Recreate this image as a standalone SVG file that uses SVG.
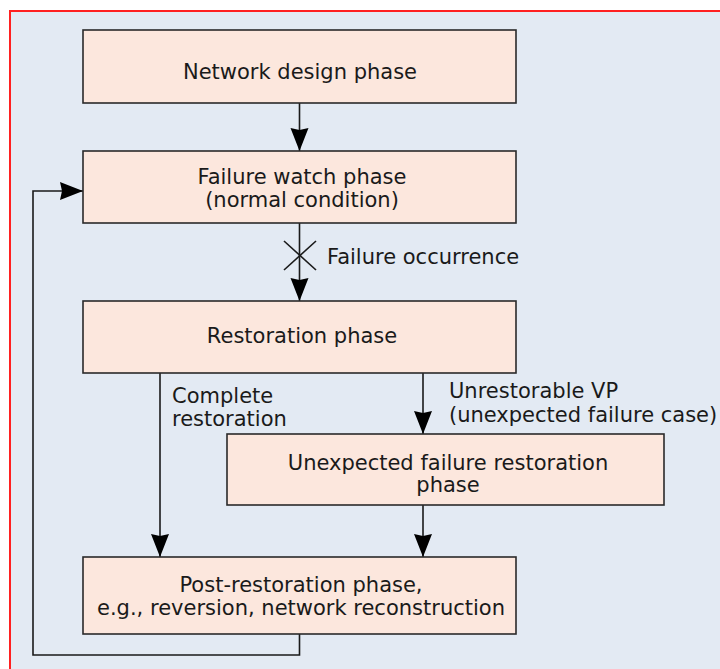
<svg xmlns="http://www.w3.org/2000/svg" width="720" height="669" viewBox="0 0 720 669">
<defs>
<style>
.box{fill:#fce7dd;stroke:#2a2a2a;stroke-width:1.6}
.t{font-family:"DejaVu Sans",sans-serif;font-size:21px;fill:#1a1a1a}
.m{text-anchor:middle}
.ln{fill:none;stroke:#1a1a1a;stroke-width:1.6}
</style>
<marker id="ah" markerWidth="24" markerHeight="20" viewBox="0 0 24 20" refX="23" refY="10" orient="auto" markerUnits="userSpaceOnUse">
<path d="M0,1 L2,10 L0,19 L23,10 Z" fill="#000"/>
</marker>
</defs>
<rect x="0" y="0" width="720" height="669" fill="#fff"/>
<rect x="10" y="11" width="720" height="670" fill="#e3eaf3" stroke="#ff2020" stroke-width="2"/>
<g id="connectors">
<line class="ln" x1="299.5" y1="103" x2="299.5" y2="151" marker-end="url(#ah)"/>
<line class="ln" x1="299.5" y1="223" x2="299.5" y2="301" marker-end="url(#ah)"/>
<g id="failure-mark">
<line class="ln" x1="284" y1="241" x2="316" y2="270" stroke-width="1.3"/>
<line class="ln" x1="316" y1="241" x2="284" y2="270" stroke-width="1.3"/>
</g>
<text class="t" x="327" y="264">Failure occurrence</text>
<line class="ln" x1="160" y1="373" x2="160" y2="557" marker-end="url(#ah)"/>
<text class="t" x="172" y="403">Complete</text>
<text class="t" x="172" y="426">restoration</text>
<line class="ln" x1="423" y1="373" x2="423" y2="434" marker-end="url(#ah)"/>
<text class="t" x="449" y="398">Unrestorable VP</text>
<text class="t" x="449" y="422">(unexpected failure case)</text>
<line class="ln" x1="423" y1="505" x2="423" y2="557" marker-end="url(#ah)"/>
<polyline class="ln" points="299.5,634 299.5,655 33,655 33,191 83,191" marker-end="url(#ah)"/>
</g>
<g id="network-design">
<rect class="box" x="83" y="30" width="433" height="73"/>
<text class="t m" x="300" y="79">Network design phase</text>
</g>
<g id="failure-watch">
<rect class="box" x="83" y="151" width="433" height="72"/>
<text class="t m" x="302" y="184">Failure watch phase</text>
<text class="t m" x="302" y="207">(normal condition)</text>
</g>
<g id="restoration">
<rect class="box" x="83" y="301" width="433" height="72"/>
<text class="t m" x="302" y="343">Restoration phase</text>
</g>
<g id="unexpected">
<rect class="box" x="227" y="434" width="437" height="71"/>
<text class="t m" x="448" y="470">Unexpected failure restoration</text>
<text class="t m" x="448" y="492">phase</text>
</g>
<g id="post-restoration">
<rect class="box" x="83" y="557" width="433" height="77"/>
<text class="t m" x="301" y="592">Post-restoration phase,</text>
<text class="t m" x="301" y="615">e.g., reversion, network reconstruction</text>
</g>
</svg>
